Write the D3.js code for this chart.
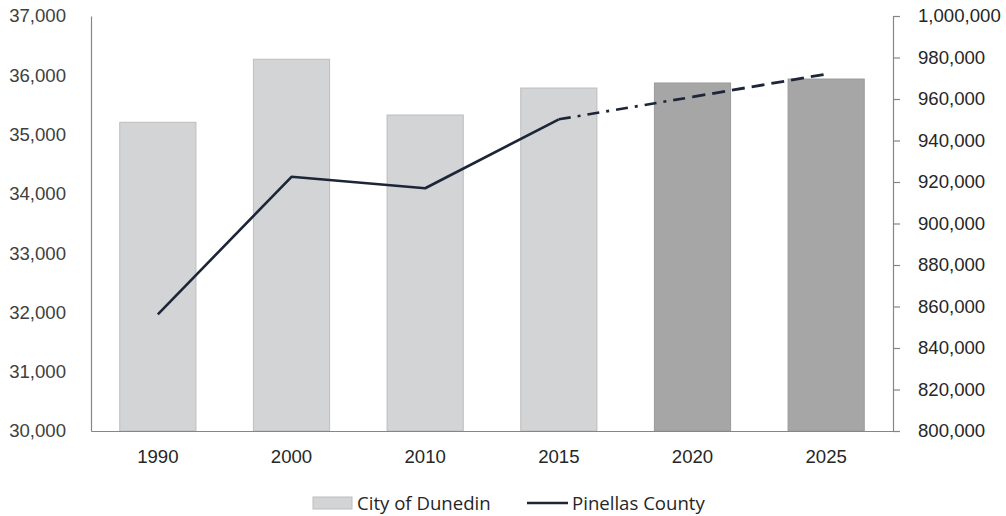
<!DOCTYPE html>
<html>
<head>
<meta charset="utf-8">
<script src="https://cdn.jsdelivr.net/npm/d3@7/dist/d3.min.js"></script>
<style>
  html, body { margin: 0; padding: 0; background: #fff; }
  svg { display: block; font-family: "Open Sans", "Noto Sans", sans-serif; }
</style>
</head>
<body>
<svg id="chart" width="1006" height="516"></svg>
<script>
// Population: City of Dunedin (bars, left axis) and Pinellas County (line, right axis)
const years = ["1990", "2000", "2010", "2015", "2020", "2025"];
const dunedin = [35207, 36270, 35330, 35785, 35870, 35937];
const pinellas = [856200, 922500, 917000, 950200, 961000, 972000];
const projected = [false, false, false, false, true, true];
const leftTicks = [30000, 31000, 32000, 33000, 34000, 35000, 36000, 37000];
const rightTicks = [800000, 820000, 840000, 860000, 880000, 900000, 920000, 940000, 960000, 980000, 1000000];
const legendLabels = ["City of Dunedin", "Pinellas County"];

const svg = d3.select("#chart");
const plot = { left: 91, right: 893, top: 16, bottom: 431 };
const fmt = d3.format(",");
const fontSize = "18.6px";

const x = d3.scaleBand().domain(years).range([plot.left, plot.right]).paddingInner(0.43).paddingOuter(0.215);
const yL = d3.scaleLinear().domain([30000, 37000]).range([plot.bottom, plot.top]);
const yR = d3.scaleLinear().domain([800000, 1000000]).range([plot.bottom, plot.top]);

// Bars
svg.append("g").selectAll("rect")
  .data(years)
  .join("rect")
  .attr("x", d => x(d))
  .attr("width", x.bandwidth())
  .attr("y", (d, i) => yL(dunedin[i]))
  .attr("height", (d, i) => plot.bottom - yL(dunedin[i]))
  .attr("fill", (d, i) => projected[i] ? "#a6a6a6" : "#d3d4d6")
  .attr("stroke", (d, i) => projected[i] ? "#9a9a9a" : "#bdbdbd")
  .attr("stroke-width", 1);

// Left axis
const axL = svg.append("g").attr("transform", `translate(${plot.left},0)`)
  .call(d3.axisLeft(yL).tickValues(leftTicks).tickFormat(fmt).tickSize(0).tickPadding(25));
axL.select(".domain").attr("stroke", "#868686").attr("stroke-width", 1.2);
axL.selectAll("text").attr("font-size", fontSize).attr("fill", "#404040");

// Right axis
const axR = svg.append("g").attr("transform", `translate(${plot.right},0)`)
  .call(d3.axisRight(yR).tickValues(rightTicks).tickFormat(fmt).tickSizeInner(7).tickSizeOuter(7).tickPadding(18));
axR.select(".domain").attr("stroke", "#868686").attr("stroke-width", 1.2);
axR.selectAll(".tick line").attr("stroke", "#868686").attr("stroke-width", 1.2);
axR.selectAll("text").attr("font-size", fontSize).attr("fill", "#262626");

// Bottom axis
const axB = svg.append("g").attr("transform", `translate(0,${plot.bottom})`)
  .call(d3.axisBottom(x).tickSize(0).tickPadding(19));
axB.select(".domain").attr("stroke", "#868686").attr("stroke-width", 1.2);
axB.selectAll("text").attr("font-size", fontSize).attr("fill", "#262626");

// Line segments: solid for historic, dash-dot to 2020, dashed to 2025
const cx = d => x(d) + x.bandwidth() / 2;
const pts = years.map((d, i) => [cx(d), yR(pinellas[i])]);
const line = d3.line();
const lineColor = "#1c2638";

svg.append("path")
  .attr("d", line(pts.slice(0, 4)))
  .attr("fill", "none").attr("stroke", lineColor).attr("stroke-width", 2.6)
  .attr("stroke-linejoin", "round");
svg.append("path")
  .attr("d", line(pts.slice(3, 5)))
  .attr("fill", "none").attr("stroke", lineColor).attr("stroke-width", 2.6)
  .attr("stroke-dasharray", "12 7 3 7");
svg.append("path")
  .attr("d", line(pts.slice(4, 6)))
  .attr("fill", "none").attr("stroke", lineColor).attr("stroke-width", 2.8)
  .attr("stroke-dasharray", "13 7");

// Legend
const lg = svg.append("g");
lg.append("rect").attr("x", 313).attr("y", 497).attr("width", 39).attr("height", 12)
  .attr("fill", "#d3d4d6").attr("stroke", "#bdbdbd");
lg.append("text").attr("x", 357).attr("y", 503).attr("dy", "0.35em")
  .attr("font-size", fontSize).attr("fill", "#262626").text(legendLabels[0]);
lg.append("line").attr("x1", 527).attr("x2", 568).attr("y1", 503).attr("y2", 503)
  .attr("stroke", lineColor).attr("stroke-width", 2.6);
lg.append("text").attr("x", 572).attr("y", 503).attr("dy", "0.35em")
  .attr("font-size", fontSize).attr("fill", "#262626").text(legendLabels[1]);
</script>
</body>
</html>
